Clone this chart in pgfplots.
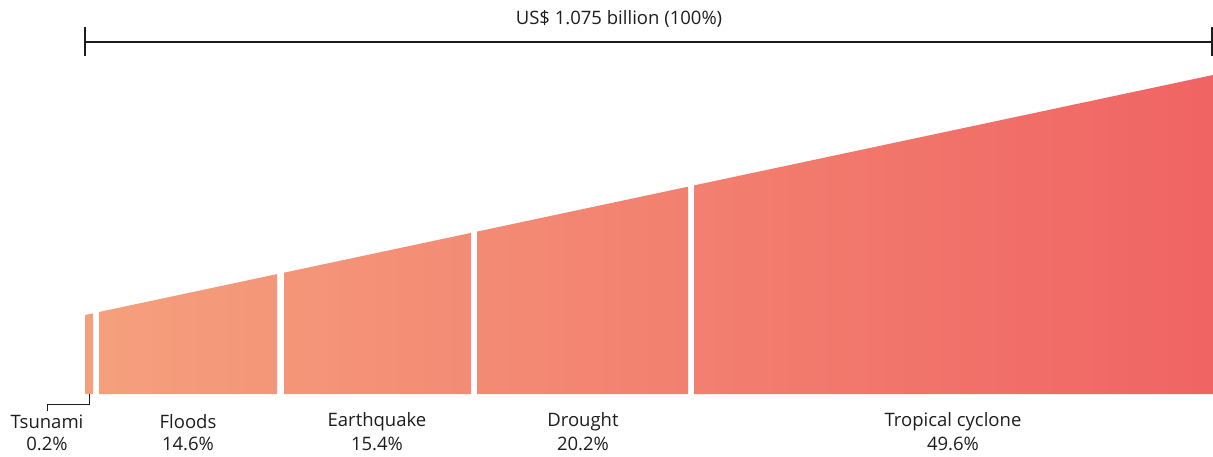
\documentclass[border=0pt]{standalone}
\usepackage{pgfplots}
\pgfplotsset{compat=1.18}
\usepackage{fontspec}
\setmainfont{Open Sans}
\definecolor{cL}{HTML}{F5A07D}
\definecolor{cR}{HTML}{F06464}
\definecolor{txt}{HTML}{1F1C1D}
\newcommand{\lf}{\fontsize{18.5}{21}\selectfont}
\begin{document}
\begin{tikzpicture}
\begin{axis}[
  scale only axis, width=1213pt, height=457pt,
  xmin=0, xmax=1213, ymin=0, ymax=457, y dir=reverse,
  hide axis, clip=false,
]
\path (rel axis cs:0,0) rectangle (rel axis cs:1,1);
% segments
\addplot[draw=none, left color=cR!0!cL, right color=cR!0.7!cL] coordinates {(85,394) (85,315) (93,313.3) (93,394)} -- cycle;
\addplot[draw=none, left color=cR!1.2!cL, right color=cR!17!cL] coordinates {(99,394) (99,312.0) (277,274.1) (277,394)} -- cycle;
\addplot[draw=none, left color=cR!17.6!cL, right color=cR!34.2!cL] coordinates {(284,394) (284,272.7) (471,232.9) (471,394)} -- cycle;
\addplot[draw=none, left color=cR!34.8!cL, right color=cR!53.5!cL] coordinates {(477,394) (477,231.6) (688,186.7) (688,394)} -- cycle;
\addplot[draw=none, left color=cR!54!cL, right color=cR!100!cL] coordinates {(694,394) (694,185.4) (1213,75) (1213,394)} -- cycle;
% bracket
\addplot[txt, line width=1.6pt] coordinates {(85,42) (1212,42)};
\addplot[txt, line width=1.6pt] coordinates {(85,27.5) (85,56)};
\addplot[txt, line width=1.6pt] coordinates {(1212,27.5) (1212,56)};
% tsunami leader
\addplot[txt, line width=0.8pt] coordinates {(89,394) (89,404) (47,404) (47,411)};
% labels
\node[text=txt] at (axis cs:619,19) {\lf US\$ 1.075 billion (100\%)};
\node[text=txt] at (axis cs:47,422) {\lf Tsunami};
\node[text=txt] at (axis cs:47,444) {\lf 0.2\%};
\node[text=txt] at (axis cs:188,422) {\lf Floods};
\node[text=txt] at (axis cs:188,444) {\lf 14.6\%};
\node[text=txt] at (axis cs:377,422) {\lf Earthquake};
\node[text=txt] at (axis cs:377,444) {\lf 15.4\%};
\node[text=txt] at (axis cs:583,422) {\lf Drought};
\node[text=txt] at (axis cs:583,444) {\lf 20.2\%};
\node[text=txt] at (axis cs:953,422) {\lf Tropical cyclone};
\node[text=txt] at (axis cs:953,444) {\lf 49.6\%};
\end{axis}
\end{tikzpicture}
\end{document}
